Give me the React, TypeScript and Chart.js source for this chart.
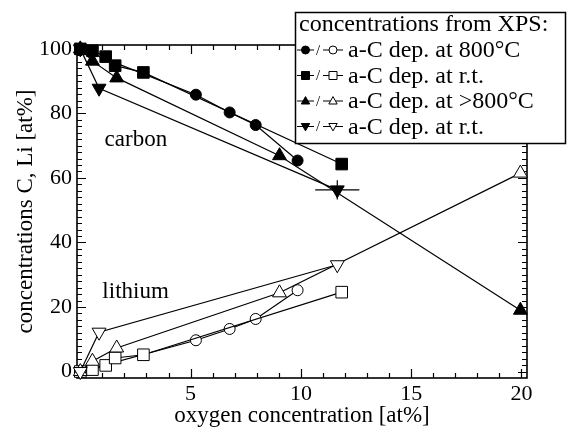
import { useEffect, useRef } from 'react';
import { Chart, registerables } from 'chart.js';

Chart.register(...registerables);

// ---- data ----
// a-C dep. at 800°C  (circles)
const circX = [0, 5.24, 6.77, 7.95, 9.85];
const circC = [100, 85.8, 80.3, 76.4, 65.4];
const circLi = [0, 9.7, 13.2, 16.3, 25.2];
// a-C dep. at r.t. (squares)
const sqX = [0, 0.55, 1.15, 1.58, 2.86, 11.85];
const sqC = [100, 99.4, 97.6, 94.8, 92.7, 64.3];
const sqLi = [0, 0.6, 1.9, 4.2, 5.2, 24.6];
// a-C dep. at >800°C (triangles)
const triX = [0, 0.55, 1.65, 9.03, 19.95];
const triC = [100, 96.2, 91.0, 66.9, 19.0];
const triLi = [0, 3.2, 7.3, 24.4, 61.5];
// a-C dep. at r.t. (inverted triangles)
const invX = [0, 0.85, 11.65];
const invC = [100, 87.8, 56.3];
const invLi = [0, 12.2, 33.1];
const invCErrX = [0, 0, 1.0];
const invCErrY = [0, 0, 3.0];

const xTickValues = [5, 10, 15, 20];
const yTickValues = [0, 20, 40, 60, 80, 100];

const legendTitle = 'concentrations from XPS:';
const legendLabels = ['a-C dep. at 800°C', 'a-C dep. at r.t.', 'a-C dep. at >800°C', 'a-C dep. at r.t.'];
const legendShapes = ['circle', 'rect', 'triangle', 'invtriangle'];

const xTitle = 'oxygen concentration [at%]';
const yTitle = 'concentrations C, Li [at%]';

const FONT = "'Liberation Serif', 'Times New Roman', serif";

const pts = (xs: number[], ys: number[]) => xs.map((x, i) => ({ x, y: ys[i] }));

function mkSet(xs: number[], ys: number[], shape: string, filled: boolean, order: number) {
  let pointStyle: any = shape;
  let rotation = 0;
  let radius = 5.5;
  if (shape === 'rect') radius = 8.2;
  if (shape === 'triangle') radius = 8;
  if (shape === 'invtriangle') { pointStyle = 'triangle'; rotation = 180; radius = 8; }
  return {
    data: pts(xs, ys),
    order,
    showLine: true,
    borderColor: '#000',
    borderWidth: 1.2,
    pointStyle,
    pointRotation: rotation,
    pointRadius: radius,
    pointBorderWidth: 1,
    pointBorderColor: '#000',
    pointBackgroundColor: filled ? '#000' : '#fff',
    backgroundColor: filled ? '#000' : '#fff',
    fill: false,
    clip: false as any,
  };
}

function drawShape(ctx: CanvasRenderingContext2D, shape: string, x: number, y: number, r: number, filled: boolean) {
  ctx.beginPath();
  if (shape === 'circle') {
    ctx.arc(x, y, r, 0, Math.PI * 2);
  } else if (shape === 'rect') {
    ctx.rect(x - r, y - r, 2 * r, 2 * r);
  } else if (shape === 'triangle') {
    ctx.moveTo(x, y - r * 1.1);
    ctx.lineTo(x + r * 1.05, y + r * 0.75);
    ctx.lineTo(x - r * 1.05, y + r * 0.75);
    ctx.closePath();
  } else {
    ctx.moveTo(x, y + r * 1.1);
    ctx.lineTo(x + r * 1.05, y - r * 0.75);
    ctx.lineTo(x - r * 1.05, y - r * 0.75);
    ctx.closePath();
  }
  ctx.fillStyle = filled ? '#000' : '#fff';
  ctx.fill();
  ctx.lineWidth = 1;
  ctx.strokeStyle = '#000';
  ctx.stroke();
}

const framePlugin = {
  id: 'frame',
  beforeDatasetsDraw(chart: any) {
    const { ctx, chartArea: a, scales } = chart;
    const x = scales.x, y = scales.y;
    ctx.save();
    ctx.strokeStyle = '#000';
    ctx.lineWidth = 1.2;
    ctx.beginPath();
    for (let v = 0; v <= 20; v += 1) {
      const px = Math.round(x.getPixelForValue(v)) + 0.5;
      const len = v % 5 === 0 ? 9 : 5;
      ctx.moveTo(px, a.bottom); ctx.lineTo(px, a.bottom - len);
      ctx.moveTo(px, a.top); ctx.lineTo(px, a.top + len);
    }
    for (let v = 0; v <= 100; v += 2) {
      const py = Math.round(y.getPixelForValue(v)) + 0.5;
      const len = v % 20 === 0 ? 9 : 5;
      ctx.moveTo(a.left, py); ctx.lineTo(a.left + len, py);
      ctx.moveTo(a.right, py); ctx.lineTo(a.right - len, py);
    }
    ctx.stroke();
    ctx.lineWidth = 1.6;
    ctx.strokeRect(a.left, a.top, a.right - a.left, a.bottom - a.top);
    // annotations
    ctx.fillStyle = '#000';
    ctx.font = `23px ${FONT}`;
    ctx.textAlign = 'left';
    ctx.textBaseline = 'middle';
    ctx.fillText('carbon', x.getPixelForValue(1.1), y.getPixelForValue(71.8));
    ctx.fillText('lithium', x.getPixelForValue(1.0), y.getPixelForValue(24.8));
    ctx.restore();
  },
  afterDatasetsDraw(chart: any) {
    const { ctx, scales } = chart;
    const x = scales.x, y = scales.y;
    ctx.save();
    ctx.strokeStyle = '#000';
    ctx.lineWidth = 1.2;
    ctx.beginPath();
    invX.forEach((xv, i) => {
      const ex = invCErrX[i], ey = invCErrY[i];
      if (ex > 0) {
        ctx.moveTo(x.getPixelForValue(xv - ex), y.getPixelForValue(invC[i]));
        ctx.lineTo(x.getPixelForValue(xv + ex), y.getPixelForValue(invC[i]));
      }
      if (ey > 0) {
        ctx.moveTo(x.getPixelForValue(xv), y.getPixelForValue(invC[i] - ey));
        ctx.lineTo(x.getPixelForValue(xv), y.getPixelForValue(invC[i] + ey));
      }
    });
    ctx.stroke();
    ctx.restore();
  },
  afterDraw(chart: any) {
    const { ctx } = chart;
    ctx.save();
    const bx = 295.5, by = 12.5, bw = 270, bh = 131;
    ctx.fillStyle = '#fff';
    ctx.fillRect(bx, by, bw, bh);
    ctx.strokeStyle = '#000';
    ctx.lineWidth = 1.5;
    ctx.strokeRect(bx, by, bw, bh);
    ctx.fillStyle = '#000';
    ctx.textAlign = 'left';
    ctx.textBaseline = 'middle';
    ctx.font = `24px ${FONT}`;
    ctx.fillText(legendTitle, 299, 25);
    legendLabels.forEach((lab, i) => {
      const ry = 50 + i * 25.5;
      ctx.strokeStyle = '#000';
      ctx.lineWidth = 1.2;
      ctx.beginPath();
      ctx.moveTo(297, ry); ctx.lineTo(314, ry);
      ctx.moveTo(323, ry); ctx.lineTo(343, ry);
      ctx.stroke();
      drawShape(ctx, legendShapes[i], 305.5, ry, 4, true);
      drawShape(ctx, legendShapes[i], 333, ry, 4, false);
      ctx.fillStyle = '#000';
      ctx.font = `15px ${FONT}`;
      ctx.fillText('/', 316, ry + 1);
      ctx.font = `24px ${FONT}`;
      ctx.fillText(lab, 348, ry + 1);
    });
    ctx.restore();
  },
};

export default function App() {
  const ref = useRef<HTMLCanvasElement | null>(null);
  useEffect(() => {
    document.body.style.margin = '0';
    const canvas = ref.current!;
    const chart = new Chart(canvas, {
      type: 'scatter',
      data: {
        datasets: [
          mkSet(sqX, sqC, 'rect', true, 0),
          mkSet(invX, invLi, 'invtriangle', false, 0),
          mkSet(triX, triC, 'triangle', true, 1),
          mkSet(triX, triLi, 'triangle', false, 1),
          mkSet(invX, invC, 'invtriangle', true, 2),
          mkSet(sqX, sqLi, 'rect', false, 2),
          mkSet(circX, circC, 'circle', true, 3),
          mkSet(circX, circLi, 'circle', false, 3),
        ] as any,
      },
      options: {
        animation: false,
        responsive: false,
        devicePixelRatio: 1,
        layout: { padding: { top: 45, right: 40, left: 0, bottom: 0 } },
        plugins: { legend: { display: false }, tooltip: { enabled: false } },
        scales: {
          x: {
            type: 'linear',
            min: -0.15,
            max: 20.25,
            afterBuildTicks: (s: any) => { s.ticks = xTickValues.map((v) => ({ value: v })); },
            afterFit: (s: any) => { s.height = 52; },
            grid: { display: false, drawTicks: false },
            border: { display: false },
            ticks: { color: '#000', font: { family: FONT, size: 22 }, padding: 3, maxRotation: 0 },
            title: { display: true, text: xTitle, color: '#000', font: { family: FONT, size: 23 }, padding: 0 },
          },
          y: {
            type: 'linear',
            min: -2,
            max: 101.2,
            afterBuildTicks: (s: any) => { s.ticks = yTickValues.map((v) => ({ value: v })); },
            afterFit: (s: any) => { s.width = 77; },
            grid: { display: false, drawTicks: false },
            border: { display: false },
            ticks: { color: '#000', font: { family: FONT, size: 22 }, padding: 5 },
            title: { display: true, text: yTitle, color: '#000', font: { family: FONT, size: 23 }, padding: { top: 12, bottom: 0 } },
          },
        },
      } as any,
      plugins: [framePlugin],
    });
    return () => chart.destroy();
  }, []);
  return (
    <div style={{ position: 'fixed', left: 0, top: 0, width: 567, height: 430, background: '#fff' }}>
      <canvas ref={ref} width={567} height={430} />
    </div>
  );
}
